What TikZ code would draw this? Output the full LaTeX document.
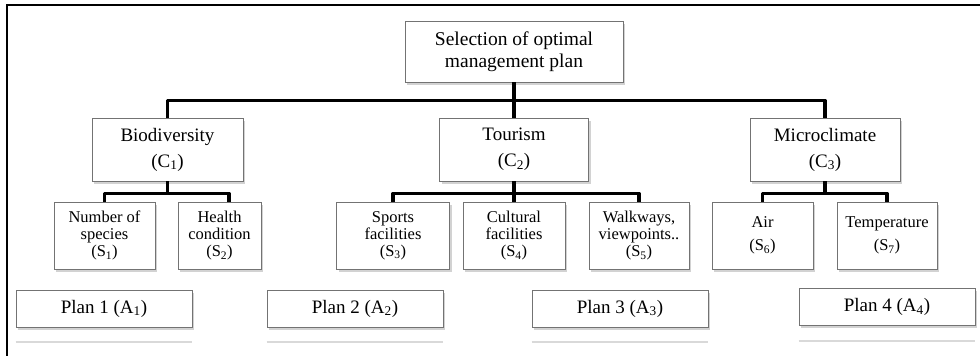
\documentclass[tikz,border=0pt]{standalone}
\usepackage{fontspec}
\setmainfont{Liberation Serif}
\usetikzlibrary{calc,positioning,shadows}

\begin{document}
\begin{tikzpicture}[x=1pt,y=1pt,
	box/.style={draw=black!55, line width=0.8pt, fill=white, align=center, inner sep=0pt,
		drop shadow={shadow xshift=2pt, shadow yshift=-2.5pt, fill=black!35}},
	goal/.style={box, minimum width=218pt, minimum height=61pt, font=\fontsize{19.5}{22}\selectfont},
	crit/.style={box, minimum width=150pt, minimum height=63pt, font=\fontsize{19}{26}\selectfont},
	subbox/.style={box, minimum height=67pt, font=\fontsize{16.5}{17}\selectfont},
	plan/.style={box, minimum width=176pt, minimum height=37pt, font=\fontsize{19}{22}\selectfont},
	link/.style={line width=3.5pt, line join=round},
	ghost/.style={draw=black!15, line width=2pt}]
	\useasboundingbox (0,0) rectangle (980,-356);

	% Frame
	\draw[line width=2.5pt] (7,-356) -- (7,-5) -- (980,-5);

	% Goal and criteria
	\node[goal] (top) at (514,-51.5) {Selection of optimal\\management plan};
	\node[crit, minimum width=151pt] (c1) at (167.5,-149.5) {Biodiversity\\(C\textsubscript{1})};
	\node[crit, minimum width=149pt] (c2) at (514,-149.5) {Tourism\\(C\textsubscript{2})};
	\node[crit] (c3) at (825,-149.5) {Microclimate\\(C\textsubscript{3})};

	% Sub-criteria
	\node[subbox, minimum width=101pt] (s1) at (104.5,-235.5) {Number of\\species\\(S\textsubscript{1})};
	\node[subbox, minimum width=83pt] (s2) at (219.5,-235.5) {Health\\condition\\(S\textsubscript{2})};
	\node[subbox, minimum width=113pt] (s3) at (393,-235.5) {Sports\\facilities\\(S\textsubscript{3})};
	\node[subbox, minimum width=102pt] (s4) at (514,-235.5) {Cultural\\facilities\\(S\textsubscript{4})};
	\node[subbox, minimum width=100pt] (s5) at (639,-235.5) {Walkways,\\viewpoints..\\(S\textsubscript{5})};
	\node[subbox, minimum width=101pt] (s6) at (762.5,-235.5) {Air\\[6pt](S\textsubscript{6})};
	\node[subbox, minimum width=100pt] (s7) at (887,-235.5) {Temperature\\[6pt](S\textsubscript{7})};

	% Alternatives
	\node[plan] (p1) at (104,-308.5) {Plan 1 (A\textsubscript{1})};
	\node[plan] (p2) at (355,-308.5) {Plan 2 (A\textsubscript{2})};
	\node[plan] (p3) at (620,-308.5) {Plan 3 (A\textsubscript{3})};
	\node[plan] (p4) at (887,-307) {Plan 4 (A\textsubscript{4})};
	\foreach \p in {p1,p2,p3,p4}
		\draw[ghost] ([yshift=-15pt]\p.south west) -- ([yshift=-15pt]\p.south east);

	% Links goal -> criteria
	\draw[link] (top.south) -- ++(0,-18) -| (c1.north);
	\draw[link] (top.south) -- ++(0,-18) -| (c3.north);
	\draw[link] (top.south) -- (c2.north);

	% Links criteria -> sub-criteria
	\draw[link] (c1.south) -- ++(0,-12) -| (s1.north);
	\draw[link] (c1.south) -- ++(0,-12) -| ([xshift=9.5pt]s2.north);
	\draw[link] (c2.south) -- ++(0,-12) -| (s3.north);
	\draw[link] (c2.south) -- (s4.north);
	\draw[link] (c2.south) -- ++(0,-12) -| (s5.north);
	\draw[link] (c3.south) -- ++(0,-12) -| (s6.north);
	\draw[link] (c3.south) -- ++(0,-12) -| (s7.north);
\end{tikzpicture}
\end{document}
